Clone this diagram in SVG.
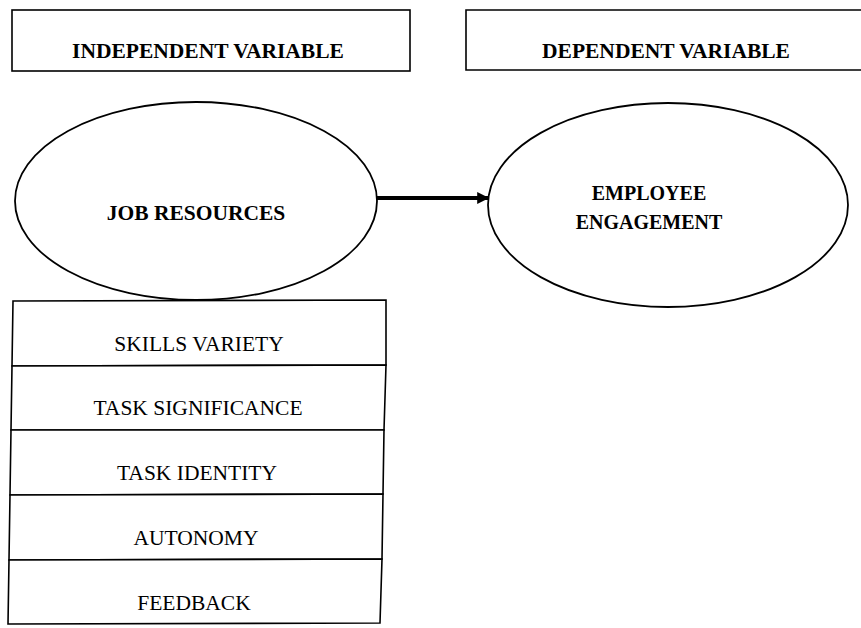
<svg xmlns="http://www.w3.org/2000/svg" width="861" height="628" viewBox="0 0 861 628">
  <style>
    .box { fill: #fff; stroke: #000; stroke-width: 1.6; }
    .oval { fill: #fff; stroke: #000; stroke-width: 1.8; }
    .head { font-family: "Liberation Serif", "Times New Roman", serif; font-weight: bold; font-size: 21.5px; fill: #000; text-anchor: middle; }
    .sub { font-size: 20px; }
    .item { font-family: "Liberation Serif", "Times New Roman", serif; font-size: 21.5px; fill: #000; text-anchor: middle; }
    .link { stroke: #000; stroke-width: 4; fill: none; }
  </style>
  <defs>
    <marker id="arrow" viewBox="0 0 10 10" refX="9" refY="5" markerWidth="3.5" markerHeight="3" orient="auto" markerUnits="strokeWidth">
      <path d="M0,0 L10,5 L0,10 z" fill="#000"/>
    </marker>
  </defs>

  <!-- headings -->
  <g id="independent-label">
    <rect class="box" x="12" y="10" width="398" height="61"/>
    <text class="head" x="208" y="58">INDEPENDENT VARIABLE</text>
  </g>
  <g id="dependent-label">
    <path class="box" d="M862,10 L466,10 L466,70 L862,70"/>
    <text class="head" x="666" y="58">DEPENDENT VARIABLE</text>
  </g>

  <!-- constructs -->
  <g id="job-resources">
    <ellipse class="oval" cx="196" cy="201" rx="181" ry="99"/>
    <text class="head" x="196" y="220">JOB RESOURCES</text>
  </g>
  <g id="employee-engagement">
    <ellipse class="oval" cx="668" cy="205" rx="180" ry="102"/>
    <text class="head sub" x="649" y="200">EMPLOYEE</text>
    <text class="head sub" x="649" y="229">ENGAGEMENT</text>
  </g>

  <!-- dimensions of job resources -->
  <g id="dimensions">
    <g id="skills-variety">
      <polygon class="box" points="13,301 386,300 386,365 12,366"/>
      <text class="item" x="199" y="351">SKILLS VARIETY</text>
    </g>
    <g id="task-significance">
      <polygon class="box" points="12,366 386,365 384,430 11,430"/>
      <text class="item" x="198" y="415">TASK SIGNIFICANCE</text>
    </g>
    <g id="task-identity">
      <polygon class="box" points="11,430 384,430 383,494 10,495"/>
      <text class="item" x="197" y="480">TASK IDENTITY</text>
    </g>
    <g id="autonomy">
      <polygon class="box" points="10,495 383,494 382,559 9,560"/>
      <text class="item" x="196" y="545">AUTONOMY</text>
    </g>
    <g id="feedback">
      <polygon class="box" points="9,560 382,559 380,623 8,624"/>
      <text class="item" x="194" y="610">FEEDBACK</text>
    </g>
  </g>

  <!-- connectors -->
  <g id="connectors">
    <line class="link" x1="376" y1="198" x2="488" y2="198" marker-end="url(#arrow)"/>
  </g>
</svg>
